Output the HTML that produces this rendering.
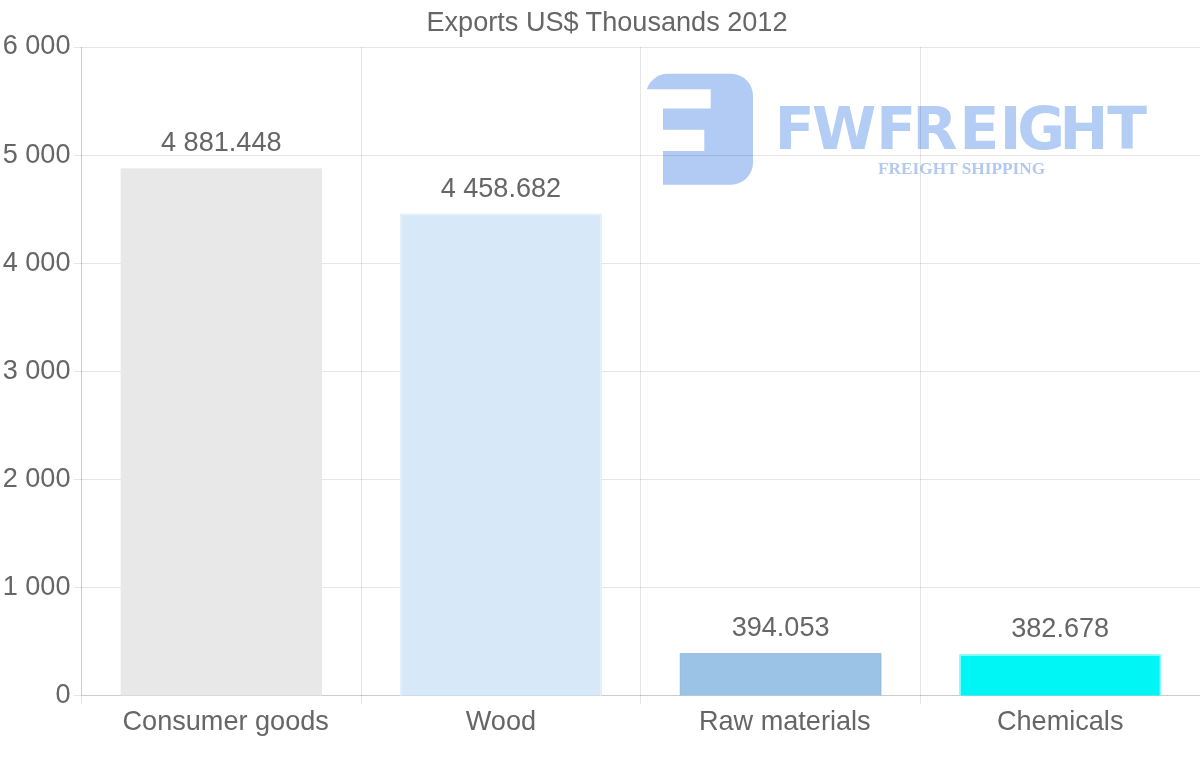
<!DOCTYPE html>
<html lang="en"><head><meta charset="utf-8"><title>Exports US$ Thousands 2012</title>
<style>
html,body{margin:0;padding:0;background:#fff}
body{width:1200px;height:763px;overflow:hidden;font-family:"Liberation Sans",Arial,sans-serif}
svg{display:block}
.t{font-family:"Liberation Sans",Arial,sans-serif;font-size:27.1px;fill:#666}
.g{stroke:rgba(0,0,0,0.1);stroke-width:1;shape-rendering:crispEdges}
.z{stroke:rgba(0,0,0,0.2);stroke-width:1;shape-rendering:crispEdges}
.brand{font-family:"DejaVu Sans","Liberation Sans",sans-serif;font-weight:bold;font-size:58.3px;fill:#b4cdf4}
.tag{font-family:"Liberation Serif","DejaVu Serif",serif;font-weight:bold;font-size:17.3px;fill:#b3c9f0}
</style></head><body>
<svg width="1200" height="763" viewBox="0 0 1200 763">
<rect width="1200" height="763" fill="#fff"/>

<g>
<path fill="#b1cbf4" d="M646.8 89.3A22 22 0 0 1 668.5 73.8H731A22 22 0 0 1 753 95.8V162.7A22 22 0 0 1 731 184.7H663V151.1H704.3V129.7H663V108.6H710.7V89.3Z"/>
<text class="brand" x="774.8 812 876.3 912.6 959.5 999.8 1017.3 1059.6 1107.2" y="149.2">FWFREIGHT</text>
<text class="tag" x="878" y="174.3">FREIGHT SHIPPING</text>
</g>
<text class="t" x="607" y="30.8" text-anchor="middle">Exports US$ Thousands 2012</text>
<line class="g" x1="74" x2="1200" y1="47.5" y2="47.5"/>
<text class="t" x="70.5" y="54.0" text-anchor="end">6 000</text>
<line class="g" x1="74" x2="1200" y1="155.5" y2="155.5"/>
<text class="t" x="70.5" y="163.0" text-anchor="end">5 000</text>
<line class="g" x1="74" x2="1200" y1="263.5" y2="263.5"/>
<text class="t" x="70.5" y="271.0" text-anchor="end">4 000</text>
<line class="g" x1="74" x2="1200" y1="371.5" y2="371.5"/>
<text class="t" x="70.5" y="379.0" text-anchor="end">3 000</text>
<line class="g" x1="74" x2="1200" y1="479.5" y2="479.5"/>
<text class="t" x="70.5" y="487.0" text-anchor="end">2 000</text>
<line class="g" x1="74" x2="1200" y1="587.5" y2="587.5"/>
<text class="t" x="70.5" y="595.0" text-anchor="end">1 000</text>
<line class="g" x1="74" x2="81" y1="695.5" y2="695.5"/>
<text class="t" x="70.5" y="703.0" text-anchor="end">0</text>
<line class="z" x1="81.5" x2="81.5" y1="47.0" y2="695.0"/>
<line class="g" x1="81.5" x2="81.5" y1="696.0" y2="704.0"/>
<line class="g" x1="361.125" x2="361.125" y1="47.0" y2="704.0"/>
<line class="g" x1="640.75" x2="640.75" y1="47.0" y2="704.0"/>
<line class="g" x1="920.375" x2="920.375" y1="47.0" y2="704.0"/>
<line class="z" x1="81" x2="1200" y1="695.5" y2="695.5"/>
<rect x="120.65" y="168.30" width="201.33" height="527.20" fill="#e8e8e8"/>
<text class="t" x="221.3" y="150.9" text-anchor="middle">4 881.448</text>
<text class="t" x="225.7" y="729.7" text-anchor="middle">Consumer goods</text>
<rect x="400.27" y="213.86" width="201.33" height="481.64" fill="#d7e8f9"/>
<path d="M401.07 695.50V214.66H600.80V695.50" fill="none" stroke="#e4f0fb" stroke-width="1.6"/>
<text class="t" x="500.9" y="196.5" text-anchor="middle">4 458.682</text>
<text class="t" x="500.9" y="729.7" text-anchor="middle">Wood</text>
<rect x="679.90" y="653.24" width="201.33" height="42.26" fill="#9bc3e6"/>
<path d="M680.30 695.50V653.64H880.83V695.50" fill="none" stroke="#97bbdc" stroke-width="0.8"/>
<text class="t" x="780.6" y="635.8" text-anchor="middle">394.053</text>
<text class="t" x="784.8" y="729.7" text-anchor="middle">Raw materials</text>
<rect x="959.52" y="654.47" width="201.33" height="41.03" fill="#00f5f5"/>
<path d="M960.12 695.50V655.07H1160.25V695.50" fill="none" stroke="#a8fbfb" stroke-width="1.2"/>
<text class="t" x="1060.2" y="637.1" text-anchor="middle">382.678</text>
<text class="t" x="1060.2" y="729.7" text-anchor="middle">Chemicals</text>
</svg></body></html>
